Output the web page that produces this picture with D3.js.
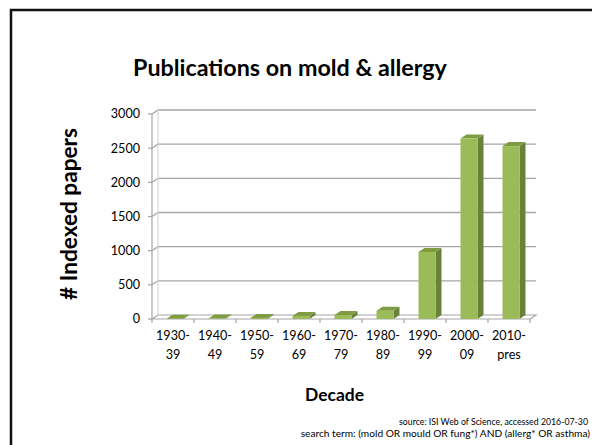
<!DOCTYPE html>
<html><head><meta charset="utf-8">
<script src="https://cdnjs.cloudflare.com/ajax/libs/d3/7.8.5/d3.min.js"></script>
<style>html,body{margin:0;padding:0;background:#fff;overflow:hidden}svg{display:block}</style>
</head><body>
<script>
const categories = ["1930-39","1940-49","1950-59","1960-69","1970-79","1980-89","1990-99","2000-09","2010-pres"];
const labelLine1 = ["1930-","1940-","1950-","1960-","1970-","1980-","1990-","2000-","2010-"];
const labelLine2 = ["39","49","59","69","79","89","99","09","pres"];
const papers = [3, 6, 15, 45, 58, 120, 980, 2640, 2530];
const yTicks = [0, 500, 1000, 1500, 2000, 2500, 3000];
const titleText = "Publications on mold & allergy";
const yTitle = "# Indexed papers";
const xTitle = "Decade";
const sourceLines = ["source: ISI Web of Science, accessed 2016-07-30",
                     "search term: (mold OR mould OR fung*) AND (allerg* OR asthma)"];

const W = 592, H = 445;
const FONT = "Lato, 'Open Sans', sans-serif";
const svg = d3.select("body").append("svg").attr("width", W).attr("height", H);

// frame
svg.append("rect").attr("x", 11).attr("y", 10).attr("width", 700).attr("height", 600)
  .attr("fill", "none").attr("stroke", "#111").attr("stroke-width", 2.5);

function fitText(sel, target) {
  const w = sel.node().getComputedTextLength();
  const fs = parseFloat(sel.attr("font-size"));
  sel.attr("font-size", fs * target / w);
  return sel;
}

// title
fitText(svg.append("text").attr("x", 290).attr("y", 76).attr("text-anchor", "middle")
  .attr("font-family", FONT).attr("font-weight", "bold").attr("font-size", 24)
  .attr("fill", "#000").text(titleText), 314);

const dx = 6, dy = -4;
const x = d3.scaleBand().domain(categories).range([152, 530]).paddingInner(0).paddingOuter(0);
const y = d3.scaleLinear().domain([0, 3000]).range([319, 114]);

const g = svg.append("g");
const grid = "#a6a6a6";

// floor
g.append("path").attr("d", `M${x.range()[0]},${y(0)} L${x.range()[1]},${y(0)} L${x.range()[1]+dx},${y(0)+dy} L${x.range()[0]+dx},${y(0)+dy} Z`)
  .attr("fill", "#fff").attr("stroke", grid).attr("stroke-width", 1.2);

// gridlines: left wall diagonal + back wall horizontal
yTicks.forEach(t => {
  if (t === 0) return;
  g.append("path").attr("d", `M${x.range()[0]},${y(t)} L${x.range()[0]+dx},${y(t)+dy} L${x.range()[1]+dx},${y(t)+dy}`)
    .attr("fill", "none").attr("stroke", grid).attr("stroke-width", 1.3);
});
// vertical axis line
g.append("line").attr("x1", x.range()[0]).attr("x2", x.range()[0]).attr("y1", y(0)).attr("y2", y(3000))
  .attr("stroke", grid).attr("stroke-width", 1.2);
g.append("line").attr("x1", x.range()[0]+dx).attr("x2", x.range()[0]+dx).attr("y1", y(0)+dy).attr("y2", y(3000)+dy)
  .attr("stroke", "#d0d0d0").attr("stroke-width", 1);

// y ticks and labels
yTicks.forEach(t => {
  g.append("line").attr("x1", x.range()[0]-4).attr("x2", x.range()[0]).attr("y1", y(t)).attr("y2", y(t))
    .attr("stroke", grid).attr("stroke-width", 1.2);
  g.append("text").attr("x", 140).attr("y", y(t)).attr("dy", "0.35em").attr("text-anchor", "end")
    .attr("font-family", FONT).attr("font-size", 12.6).attr("fill", "#000").text(t);
});

// x ticks
const edges = categories.map(c => x(c)).concat([x.range()[1]]);
edges.forEach(e => {
  g.append("line").attr("x1", e).attr("x2", e).attr("y1", y(0)).attr("y2", y(0)+4)
    .attr("stroke", grid).attr("stroke-width", 1.2);
});

// bars
const bw = 17;
categories.forEach((c, i) => {
  const cx = x(c) + x.bandwidth()/2 + 2;
  const x0 = cx - bw/2, x1 = cx + bw/2;
  const yt = y(papers[i]), yb = y(0);
  // side
  g.append("path").attr("d", `M${x1},${yb} L${x1+dx},${yb+dy} L${x1+dx},${yt+dy} L${x1},${yt} Z`)
    .attr("fill", "#6a813a");
  // top
  g.append("path").attr("d", `M${x0},${yt} L${x1},${yt} L${x1+dx},${yt+dy} L${x0+dx},${yt+dy} Z`)
    .attr("fill", "#7f9c43");
  // front
  g.append("rect").attr("x", x0).attr("y", yt).attr("width", bw).attr("height", Math.max(0, yb - yt))
    .attr("fill", "#9bbb59");
});

// x labels
categories.forEach((c, i) => {
  const cx = x(c) + x.bandwidth()/2;
  g.append("text").attr("x", cx).attr("y", 340).attr("text-anchor", "middle")
    .attr("font-family", FONT).attr("font-size", 12.6).attr("fill", "#000").text(labelLine1[i]);
  g.append("text").attr("x", cx).attr("y", 359).attr("text-anchor", "middle")
    .attr("font-family", FONT).attr("font-size", 12.6).attr("fill", "#000").text(labelLine2[i]);
});

// axis titles
fitText(svg.append("text").attr("transform", "translate(77,214) rotate(-90)").attr("text-anchor", "middle")
  .attr("font-family", FONT).attr("font-weight", "bold").attr("font-size", 18).attr("fill", "#000").text(yTitle), 172);
fitText(svg.append("text").attr("x", 334.5).attr("y", 401).attr("text-anchor", "middle")
  .attr("font-family", FONT).attr("font-weight", "bold").attr("font-size", 20).attr("fill", "#000").text(xTitle), 59);

// source lines
fitText(svg.append("text").attr("x", 588).attr("y", 425).attr("text-anchor", "end")
  .attr("font-family", FONT).attr("font-size", 10).attr("fill", "#000").text(sourceLines[0]), 189);
fitText(svg.append("text").attr("x", 590).attr("y", 437).attr("text-anchor", "end")
  .attr("font-family", FONT).attr("font-size", 10).attr("fill", "#000").text(sourceLines[1]), 290);
</script>
</body></html>
